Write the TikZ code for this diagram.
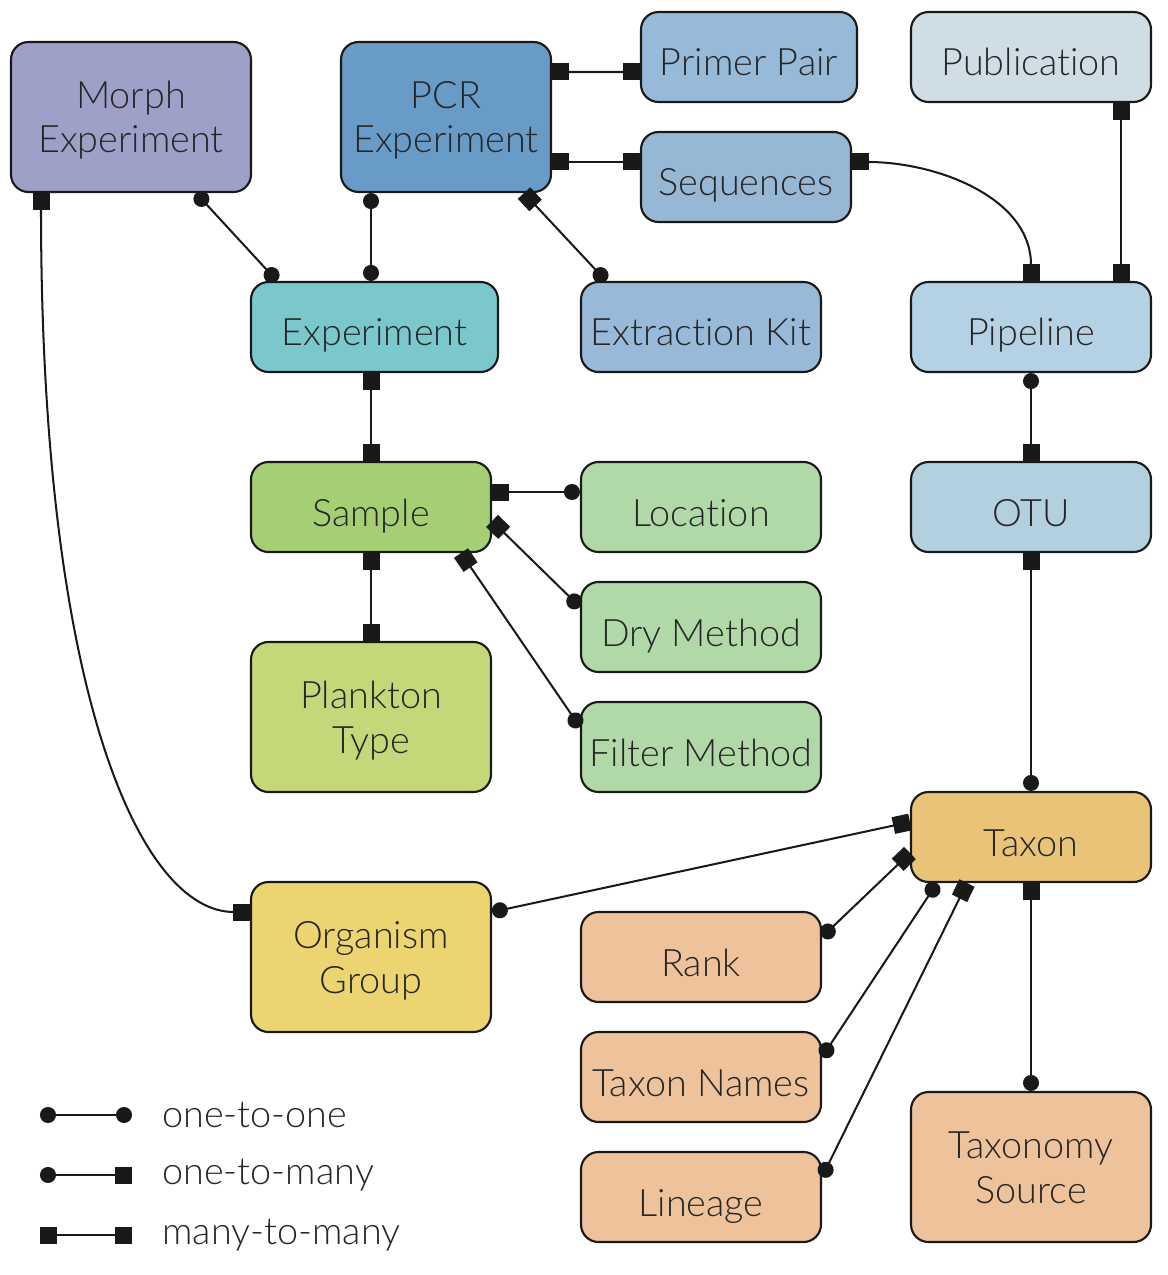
\documentclass[tikz,border=0pt]{standalone}
\usepackage{fontspec}
\setmainfont{Lato Light}[Ligatures=CommonOff]
\usetikzlibrary{arrows.meta}
\definecolor{dbmorph}{RGB}{158,160,200}
\definecolor{dbpcr}{RGB}{104,155,197}
\definecolor{dbprimer}{RGB}{150,186,216}
\definecolor{dbseq}{RGB}{150,184,212}
\definecolor{dbpub}{RGB}{207,222,229}
\definecolor{dbexpt}{RGB}{122,200,204}
\definecolor{dbkit}{RGB}{152,185,216}
\definecolor{dbpipe}{RGB}{181,210,229}
\definecolor{dbsample}{RGB}{165,206,117}
\definecolor{dbmeta}{RGB}{177,217,168}
\definecolor{dbotu}{RGB}{178,208,222}
\definecolor{dbplank}{RGB}{196,216,122}
\definecolor{dbtaxon}{RGB}{232,195,120}
\definecolor{dborg}{RGB}{236,213,112}
\definecolor{dbtax}{RGB}{238,194,155}
\tikzset{
  one/.tip={Circle[length=0.32cm]},
  many/.tip={Square[length=0.34cm,width=0.34cm]}
}

\begin{document}
\begin{tikzpicture}[
  entity/.style={rectangle, rounded corners=0.35cm, draw=black!90, line width=1.2pt, minimum width=4.8cm, minimum height=1.8cm, align=center, inner sep=2pt, text=black!85, text height=0.92cm, text depth=0.16cm, font=\fontsize{21.5}{25.6}\selectfont},
  tall/.style={minimum height=3cm, text height=1.6cm},
  link/.style={line width=1.15pt, draw=black!90},
  key/.style={anchor=west, inner sep=0pt, text=black!85, font=\fontsize{21.5}{25.6}\selectfont}
]
\useasboundingbox (0,0) rectangle (23.34,-25.5);

% Tables
\node[entity, tall, fill=dbmorph] (morph) at (2.62,-2.34) {Morph\\Experiment};
\node[entity, tall, fill=dbpcr, minimum width=4.2cm] (pcr) at (8.92,-2.34) {PCR\\Experiment};
\node[entity, fill=dbprimer, minimum width=4.32cm] (primer) at (14.98,-1.14) {Primer Pair};
\node[entity, fill=dbseq, minimum width=4.2cm] (seqs) at (14.92,-3.54) {Sequences};
\node[entity, fill=dbpub] (pub) at (20.62,-1.14) {Publication};
\node[entity, fill=dbexpt, minimum width=4.94cm] (expt) at (7.49,-6.54) {Experiment};
\node[entity, fill=dbkit] (kit) at (14.02,-6.54) {Extraction Kit};
\node[entity, fill=dbpipe] (pipe) at (20.62,-6.54) {Pipeline};
\node[entity, fill=dbsample] (sample) at (7.42,-10.14) {Sample};
\node[entity, fill=dbmeta] (loc) at (14.02,-10.14) {Location};
\node[entity, fill=dbotu] (otu) at (20.62,-10.14) {OTU};
\node[entity, fill=dbmeta] (dry) at (14.02,-12.54) {Dry Method};
\node[entity, tall, fill=dbplank] (plank) at (7.42,-14.34) {Plankton\\Type};
\node[entity, fill=dbmeta] (filter) at (14.02,-14.94) {Filter Method};
\node[entity, fill=dbtaxon] (taxon) at (20.62,-16.74) {Taxon};
\node[entity, tall, fill=dborg] (org) at (7.42,-19.14) {Organism\\Group};
\node[entity, fill=dbtax] (rank) at (14.02,-19.14) {Rank};
\node[entity, fill=dbtax] (names) at (14.02,-21.54) {Taxon Names};
\node[entity, tall, fill=dbtax] (source) at (20.62,-23.34) {Taxonomy\\Source};
\node[entity, fill=dbtax] (lineage) at (14.02,-23.94) {Lineage};

% Experiment side
\draw[link, one-one] ([xshift=1.3cm]morph.south) -- ([xshift=-1.95cm]expt.north);
\draw[link, one-one] ([xshift=-1.5cm]pcr.south) -- ([xshift=-1.5cm]pcr.south |- expt.north);
\draw[link, many-one] ([xshift=1.56cm]pcr.south) -- ([xshift=-1.9cm]kit.north);
\draw[link, many-many] ([yshift=0.9cm]pcr.east) -- ([yshift=-0.3cm]primer.west);
\draw[link, many-many] ([yshift=-0.9cm]pcr.east) -- ([yshift=0.3cm]seqs.west);
\draw[link, many-many] (sample.north |- expt.south) -- (sample.north);

% Sample details
\draw[link, many-one] ([yshift=0.3cm]sample.east) -- ([yshift=0.3cm]loc.west);
\draw[link, many-one] ([yshift=-0.28cm]sample.east) -- ([yshift=0.4cm]dry.west);
\draw[link, many-one] ([xshift=1.8cm]sample.south) -- ([yshift=0.4cm]filter.west);
\draw[link, many-many] (sample.south) -- (plank.north);

% Sequences to taxonomy
\draw[link, many-many] ([yshift=0.3cm]seqs.east) to[out=0, in=90] (pipe.north);
\draw[link, many-many] ([xshift=1.8cm]pub.south) -- ([xshift=1.8cm]pipe.north);
\draw[link, one-many] (pipe.south) -- (otu.north);
\draw[link, many-one] (otu.south) -- (taxon.north);
\draw[link, many-one] (taxon.south) -- (source.north);

% Organism groups
\draw[link, many-many] ([xshift=-1.8cm]morph.south) .. controls +(0,-10) and +(-2.2,0) .. ([yshift=0.9cm]org.west);
\draw[link, one-many] ([yshift=0.9cm]org.east) -- ([yshift=0.3cm]taxon.west);

% Taxon details
\draw[link, one-many] ([yshift=0.4cm]rank.east) -- ([yshift=-0.32cm]taxon.west);
\draw[link, one-one] ([yshift=0.4cm]names.east) -- ([xshift=-1.88cm]taxon.south);
\draw[link, one-many] ([yshift=0.4cm]lineage.east) -- ([xshift=-1.28cm]taxon.south);

% Legend
\coordinate (k1a) at (0.8,-22.3); \coordinate (k1b) at (2.64,-22.3);
\coordinate (k2a) at (0.8,-23.5); \coordinate (k2b) at (2.64,-23.5);
\coordinate (k3a) at (0.8,-24.7); \coordinate (k3b) at (2.64,-24.7);
\draw[link, one-one] (k1a) -- (k1b);
\draw[link, one-many] (k2a) -- (k2b);
\draw[link, many-many] (k3a) -- (k3b);
\node[key] (k1) at (3.24,-22.3) {one-to-one};
\node[key] (k2) at (3.24,-23.5) {one-to-many};
\node[key] (k3) at (3.24,-24.7) {many-to-many};

\end{tikzpicture}
\end{document}
